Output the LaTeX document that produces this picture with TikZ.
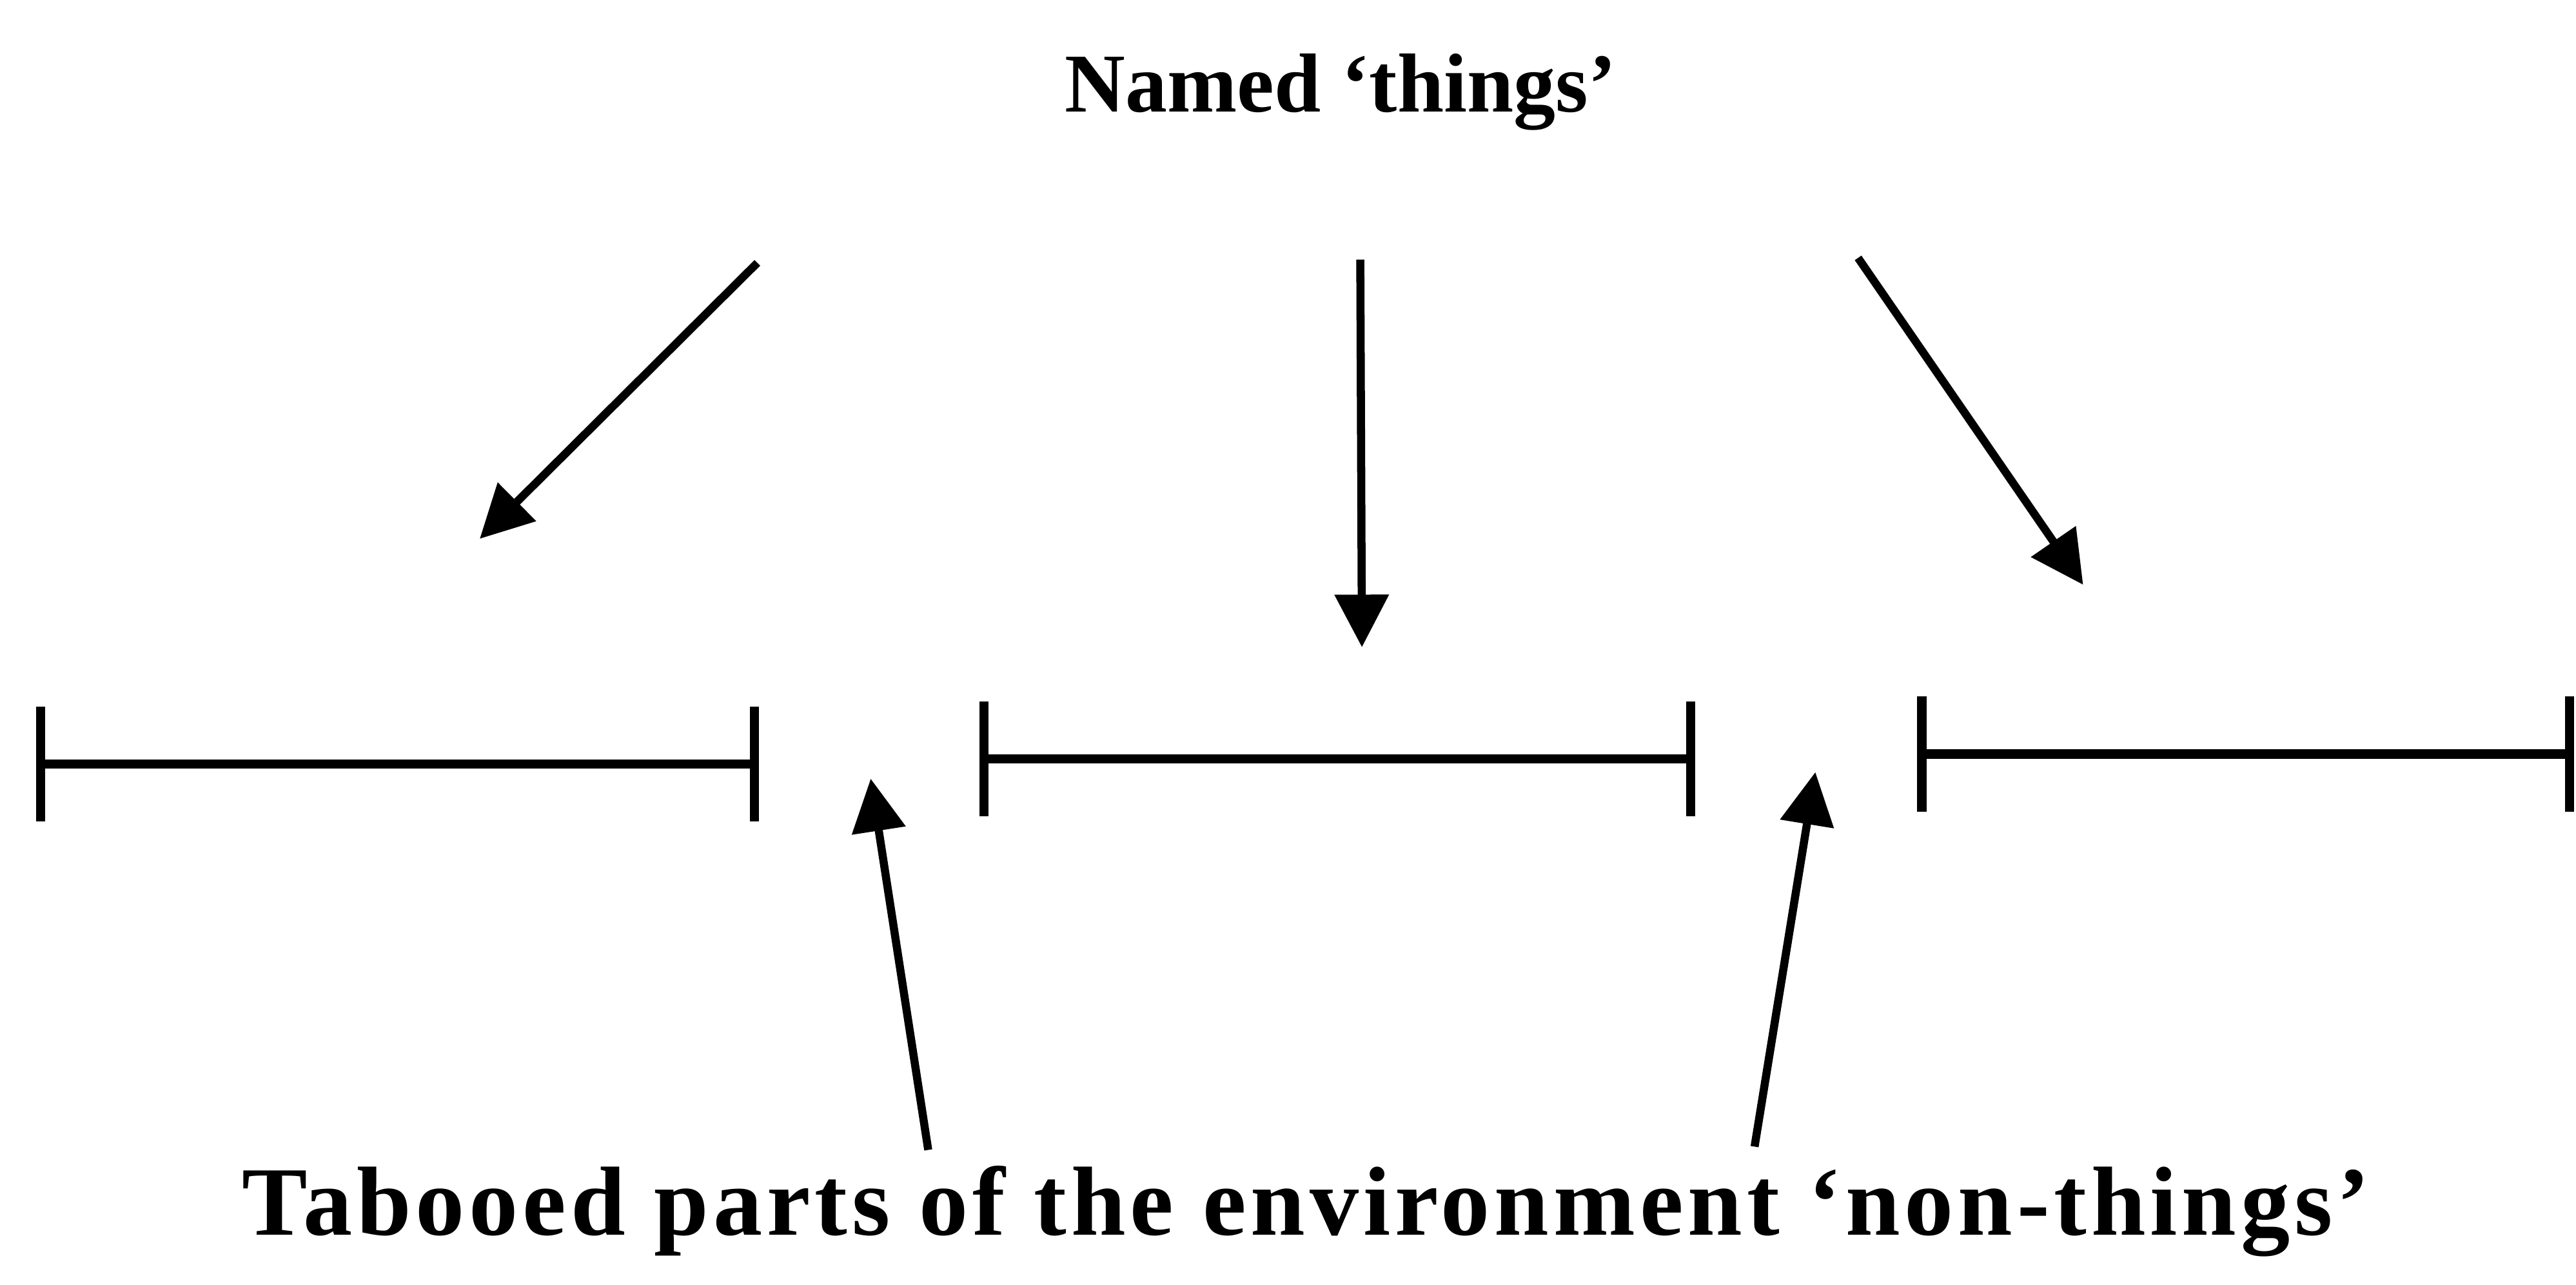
\documentclass[tikz,border=0pt]{standalone}
\usepackage{fontspec}
\setmainfont{Liberation Serif}
\newfontfamily\spacedfont[LetterSpace=4.5]{Liberation Serif}
\usetikzlibrary{arrows.meta}

\begin{document}
\begin{tikzpicture}[x=0.1mm, y=-0.1mm, line width=1.4pt,
    pointer/.style={-{Triangle[length=3.2mm, width=3.2mm]}},
    span/.style={line width=1.6pt, {Bar[width=7mm]}-{Bar[width=7mm]}}]
    \useasboundingbox (0,0) rectangle (1568,782);
    % labels
    \node[anchor=base, font=\bfseries\fontsize{14.5}{16}\selectfont] (named) at (816,68) {Named ‘things’};
    \node[anchor=base, font=\spacedfont\bfseries\fontsize{17}{19}\selectfont] (taboo) at (795,752)
        {Tabooed parts of the environment ‘non-things’};
    % the three spans
    \coordinate (L1) at (22,465);   \coordinate (R1) at (462,465);
    \coordinate (L2) at (596,462);  \coordinate (R2) at (1032,462);
    \coordinate (L3) at (1167,459); \coordinate (R3) at (1567,459);
    \foreach \i in {1,2,3} {\draw[span] (L\i) -- (R\i);}
    % arrows from the top
    \coordinate (a1) at (461,160);  \coordinate (b1) at (292,328);
    \coordinate (a2) at (828,158);  \coordinate (b2) at (829,394);
    \coordinate (a3) at (1131,157); \coordinate (b3) at (1268,356);
    % arrows from the bottom
    \coordinate (a4) at (565,700);  \coordinate (b4) at (530,474);
    \coordinate (a5) at (1068,698); \coordinate (b5) at (1105,470);
    \foreach \i in {1,...,5} {\draw[pointer] (a\i) -- (b\i);}
\end{tikzpicture}
\end{document}
